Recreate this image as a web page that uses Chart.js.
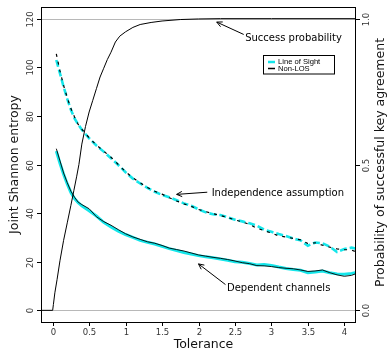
<!DOCTYPE html>
<html><head><meta charset="utf-8">
<script src="https://cdn.jsdelivr.net/npm/chart.js@4/dist/chart.umd.min.js"></script>
<style>html,body{margin:0;padding:0;background:#fff;}canvas{display:block;}</style>
</head><body>
<canvas id="c" width="390" height="353"></canvas>
<script>
// ---- data ----
const tolerance = [0.05,0.1,0.15,0.2,0.25,0.3,0.35,0.4,0.5,0.6,0.7,0.8,0.9,1.0,1.1,1.2,1.3,1.4,1.5,1.6,1.7,1.8,1.9,2.0,2.1,2.2,2.3,2.4,2.5,2.6,2.7,2.8,2.9,3.0,3.1,3.2,3.3,3.4,3.5,3.6,3.7,3.8,3.9,4.0,4.1,4.15];
const depNLOS = [66.5,61.5,56.5,52.5,49,46.5,44.5,43.5,41.8,38.5,36.5,35,33.2,31.5,30.2,29.2,28.2,27.6,26.7,25.6,25,24.4,23.6,22.8,22.3,21.8,21.4,20.9,20.3,19.6,19.2,18.4,18.3,18.0,17.6,17.3,17.1,16.6,16.0,16.2,16.6,15.5,14.6,14.0,14.4,15.0];
const depLOS = [65.5,60.5,56,52,48.5,46,44.3,43,41,38.8,36.2,34.3,32.6,31.2,30,28.8,28.0,27.3,26.3,25.4,24.6,23.8,23.2,22.5,22.0,21.6,21.1,20.6,20.0,19.8,19.3,18.7,18.9,18.5,17.8,17.2,16.8,16.5,15.5,15.8,16.2,15.5,15.0,14.8,15.2,15.5];
const indepNLOS = [105.5,98.5,92.5,87.5,83,79.5,76.5,74.5,71,68,65.5,63,60,57,54.5,52.5,50.5,49,47.8,46.3,45,43.8,42.8,41.5,40.6,39.8,39,38.2,37.2,36.4,35.3,33.8,32.8,31.8,30.6,30.2,29.6,29,27.5,27.8,26.8,26,25.3,25,24.8,24.2];
const indepLOS = [103,97.5,92,87,82.5,79,76.5,74.3,70.8,67.8,65.3,62.6,59.8,56.8,54.2,52.2,50.4,48.8,47.5,46.5,45.3,44,43,41.6,40.3,39.5,39.2,38.3,37.3,36.6,35.8,34.8,33.2,32.3,31.4,30.6,29.5,28.8,26.6,27.9,27.6,26.2,24.0,25.2,25.8,25.4];
const successTol = [-0.16,0,0.01,0.03,0.06,0.1,0.15,0.2,0.25,0.29,0.33,0.36,0.4,0.45,0.5,0.55,0.6,0.65,0.7,0.75,0.8,0.86,0.92,1.0,1.1,1.2,1.35,1.5,1.75,2.0,2.3,3.0,4.16];
const successProb = [0,0,0.02,0.06,0.105,0.17,0.24,0.3,0.36,0.41,0.46,0.5,0.57,0.63,0.68,0.72,0.76,0.80,0.83,0.86,0.885,0.92,0.94,0.955,0.97,0.98,0.987,0.992,0.997,0.999,1.0,1.0,1.0];
const xTicks = [0,0.5,1,1.5,2,2.5,3,3.5,4];
const xTickLabels = ['0','0.5','1','1.5','2','2.5','3','3.5','4'];
const yTicks = [0,20,40,60,80,100,120];
const y1Ticks = [0,0.5,1];
const y1TickLabels = ['0.0','0.5','1.0'];
const refLines = [0,120];
const legendLabels = ['Line of Sight','Non-LOS'];

const CYAN = '#14e6ea';
const pts = (xs, ys) => xs.map((x,i)=>({x, y: ys[i]}));

const decor = {
  id: 'decor',
  beforeDatasetsDraw(chart) {
    const {ctx, chartArea: a, scales: {y}} = chart;
    ctx.save();
    ctx.strokeStyle = '#b8b8b8'; ctx.lineWidth = 1;
    refLines.forEach(v => {
      const py = Math.round(y.getPixelForValue(v)) + 0.5;
      ctx.beginPath(); ctx.moveTo(a.left, py); ctx.lineTo(a.right, py); ctx.stroke();
    });
    ctx.restore();
  },
  afterDraw(chart) {
    const {ctx, chartArea: a, scales: {x, y, y1}} = chart;
    ctx.save();
    // box
    ctx.strokeStyle = '#000'; ctx.lineWidth = 1;
    ctx.strokeRect(a.left + 0.5, a.top + 0.5, a.right - a.left - 1, a.bottom - a.top);
    // ticks
    ctx.fillStyle = '#333';
    ctx.font = '8.5px "DejaVu Sans"';
    ctx.textAlign = 'center'; ctx.textBaseline = 'middle';
    xTicks.forEach((v,i) => {
      const px = Math.round(x.getPixelForValue(v)) + 0.5;
      ctx.beginPath(); ctx.moveTo(px, a.bottom); ctx.lineTo(px, a.bottom + 4); ctx.stroke();
      ctx.fillText(xTickLabels[i], px, a.bottom + 11);
    });
    yTicks.forEach(v => {
      const py = Math.round(y.getPixelForValue(v)) + 0.5;
      ctx.beginPath(); ctx.moveTo(a.left - 4, py); ctx.lineTo(a.left, py); ctx.stroke();
      ctx.save(); ctx.translate(a.left - 10, py); ctx.rotate(-Math.PI/2);
      ctx.fillText(String(v), 0, 0); ctx.restore();
    });
    y1Ticks.forEach((v,i) => {
      const py = Math.round(y1.getPixelForValue(v)) + 0.5;
      ctx.beginPath(); ctx.moveTo(a.right, py); ctx.lineTo(a.right + 4, py); ctx.stroke();
      ctx.save(); ctx.translate(a.right + 11, py); ctx.rotate(-Math.PI/2);
      ctx.fillText(y1TickLabels[i], 0, 0); ctx.restore();
    });
    // axis titles
    ctx.fillStyle = '#111';
    ctx.font = '12.5px "DejaVu Sans"';
    ctx.fillText('Tolerance', (a.left + a.right)/2 + 5, 345);
    ctx.save(); ctx.translate(15, (a.top + a.bottom)/2); ctx.rotate(-Math.PI/2);
    ctx.fillText('Joint Shannon entropy', 0, 0); ctx.restore();
    ctx.save(); ctx.translate(381, (a.top + a.bottom)/2 - 2); ctx.rotate(-Math.PI/2);
    ctx.fillText('Probability of successful key agreement', 0, 0); ctx.restore();

    // annotations (data coordinates)
    const notes = [
      {text:'Success probability', tx:2.64, ty:111.8, from:[2.62,113.5], to:[2.25,118.6]},
      {text:'Independence assumption', tx:2.18, ty:48.0, from:[2.12,48.6], to:[1.70,47.7]},
      {text:'Dependent channels', tx:2.39, ty:9.0, from:[2.37,10.6], to:[2.0,19.1]}
    ];
    ctx.font = '10px "DejaVu Sans"';
    ctx.fillStyle = '#000'; ctx.strokeStyle = '#000'; ctx.lineWidth = 1;
    ctx.textAlign = 'left';
    notes.forEach(n => {
      ctx.fillText(n.text, x.getPixelForValue(n.tx), y.getPixelForValue(n.ty));
      const x0 = x.getPixelForValue(n.from[0]), y0 = y.getPixelForValue(n.from[1]);
      const x1 = x.getPixelForValue(n.to[0]), y1p = y.getPixelForValue(n.to[1]);
      ctx.beginPath(); ctx.moveTo(x0, y0); ctx.lineTo(x1, y1p); ctx.stroke();
      const ang = Math.atan2(y1p - y0, x1 - x0), L = 6, sp = 0.45;
      ctx.beginPath();
      ctx.moveTo(x1 - L*Math.cos(ang - sp), y1p - L*Math.sin(ang - sp));
      ctx.lineTo(x1, y1p);
      ctx.lineTo(x1 - L*Math.cos(ang + sp), y1p - L*Math.sin(ang + sp));
      ctx.stroke();
    });

    // legend
    const lx = 263, ly = 55;
    ctx.fillStyle = '#fff';
    ctx.fillRect(lx, ly, 72, 19);
    ctx.strokeStyle = '#000'; ctx.lineWidth = 1;
    ctx.strokeRect(lx + 0.5, ly + 0.5, 71, 18.5);
    ctx.font = '7.6px "Liberation Sans"';
    ctx.textBaseline = 'middle';
    const colors = [CYAN, '#000'];
    legendLabels.forEach((t,i) => {
      const yy = ly + 7 + i*6.5;
      ctx.strokeStyle = colors[i]; ctx.lineWidth = i === 0 ? 2.5 : 1.5;
      ctx.beginPath(); ctx.moveTo(lx + 5, yy); ctx.lineTo(lx + 12, yy); ctx.stroke();
      ctx.fillStyle = '#000';
      ctx.fillText(t, lx + 15, yy);
    });
    ctx.restore();
  }
};

new Chart(document.getElementById('c'), {
  type: 'line',
  data: {
    datasets: [
      {label:'Dependent LOS', data: pts(tolerance, depLOS), borderColor: CYAN, borderWidth: 3, order: 5, yAxisID:'y'},
      {label:'Independent LOS', data: pts(tolerance, indepLOS), borderColor: CYAN, borderWidth: 2.6, borderDash:[7,3], order: 4, yAxisID:'y'},
      {label:'Dependent NLOS', data: pts(tolerance, depNLOS), borderColor: '#000', borderWidth: 0.9, order: 3, yAxisID:'y'},
      {label:'Independent NLOS', data: pts(tolerance, indepNLOS), borderColor: '#000', borderWidth: 1.2, borderDash:[3,5], order: 2, yAxisID:'y'},
      {label:'Success probability', data: pts(successTol, successProb), borderColor: '#000', borderWidth: 1, order: 1, yAxisID:'y1'}
    ]
  },
  options: {
    responsive: false,
    animation: false,
    devicePixelRatio: 1,
    layout: {padding: {left: 41, top: 7, right: 34, bottom: 31}},
    elements: {point: {radius: 0}, line: {tension: 0, fill: false}},
    plugins: {legend: {display: false}, tooltip: {enabled: false}},
    scales: {
      x: {type: 'linear', min: -0.16, max: 4.16, display: false},
      y: {type: 'linear', min: -4.8, max: 124.8, display: false},
      y1: {type: 'linear', min: -0.04, max: 1.04, display: false}
    }
  },
  plugins: [decor]
});
</script>
</body></html>
